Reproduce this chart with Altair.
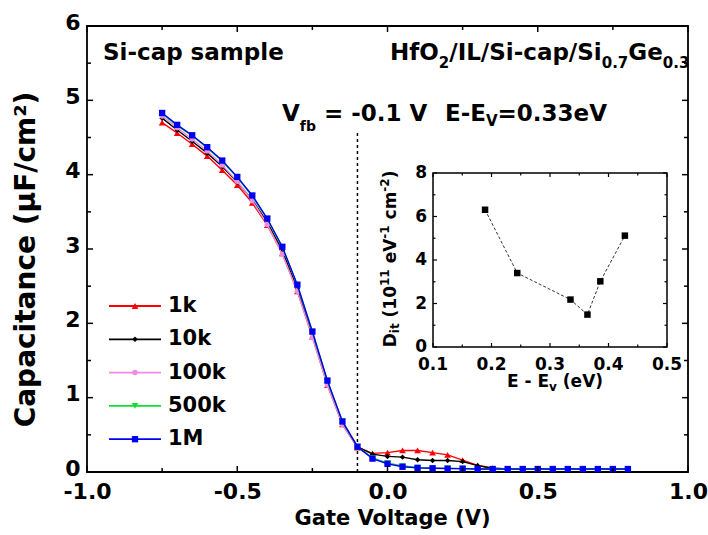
import altair as alt
import pandas as pd

FONT = "DejaVu Sans"

# ---------------- data ----------------
gate_v = [-0.75, -0.70, -0.65, -0.60, -0.55, -0.50, -0.45, -0.40, -0.35, -0.30,
          -0.25, -0.20, -0.15, -0.10, -0.05, 0.00, 0.05, 0.10, 0.15, 0.20,
          0.25, 0.30, 0.35, 0.40, 0.45, 0.50, 0.55, 0.60, 0.65, 0.70, 0.75, 0.80]

cap_1k = [4.70, 4.56, 4.41, 4.25, 4.06, 3.86, 3.62, 3.32, 2.94, 2.43,
          1.82, 1.17, 0.64, 0.33, 0.25, 0.26, 0.29, 0.29, 0.26, 0.23,
          0.16, 0.09, 0.05, 0.04, 0.04, 0.04, 0.04, 0.04, 0.04, 0.04, 0.04, 0.04]
cap_10k = [4.76, 4.60, 4.45, 4.29, 4.11, 3.90, 3.66, 3.36, 2.98, 2.47,
           1.86, 1.21, 0.67, 0.34, 0.24, 0.21, 0.20, 0.165, 0.155, 0.155,
           0.14, 0.085, 0.05, 0.04, 0.04, 0.04, 0.04, 0.04, 0.04, 0.04, 0.04, 0.04]
cap_100k = [4.79, 4.63, 4.48, 4.32, 4.13, 3.91, 3.65, 3.33, 2.93, 2.43,
            1.81, 1.17, 0.64, 0.33, 0.19, 0.12, 0.08, 0.06, 0.05, 0.05,
            0.045, 0.04, 0.04, 0.04, 0.04, 0.04, 0.04, 0.04, 0.04, 0.04, 0.04, 0.04]
cap_500k = [4.82, 4.66, 4.52, 4.36, 4.18, 3.96, 3.71, 3.40, 3.02, 2.51,
            1.88, 1.22, 0.68, 0.34, 0.19, 0.12, 0.08, 0.06, 0.05, 0.05,
            0.045, 0.04, 0.04, 0.04, 0.04, 0.04, 0.04, 0.04, 0.04, 0.04, 0.04, 0.04]
cap_1M = [4.83, 4.67, 4.53, 4.37, 4.19, 3.97, 3.72, 3.41, 3.03, 2.52,
          1.89, 1.23, 0.68, 0.34, 0.18, 0.11, 0.07, 0.055, 0.05, 0.045,
          0.045, 0.04, 0.04, 0.04, 0.04, 0.04, 0.04, 0.04, 0.04, 0.04, 0.04, 0.04]

series_names = ["1k", "10k", "100k", "500k", "1M"]
series_values = [cap_1k, cap_10k, cap_100k, cap_500k, cap_1M]
series_colors = ["#ff0000", "#000000", "#f38ae2", "#12dd30", "#0000f0"]
series_shapes = ["triangle-up", "diamond", "circle", "triangle-down", "square"]
series_sizes = [45, 30, 30, 45, 40]

inset_e = [0.189, 0.244, 0.335, 0.364, 0.386, 0.428]
inset_dit = [6.31, 3.40, 2.18, 1.49, 3.02, 5.12]

x_domain = [-1.0, 1.0]
y_domain = [0.0, 6.0]
x_major = [-1.0, -0.5, 0.0, 0.5, 1.0]
x_minor = [-0.75, -0.25, 0.25, 0.75]
y_major = [0, 1, 2, 3, 4, 5, 6]
y_minor = [0.5, 1.5, 2.5, 3.5, 4.5, 5.5]

inset_x_domain = [0.1, 0.5]
inset_y_domain = [0.0, 8.0]
inset_x_major = [0.1, 0.2, 0.3, 0.4, 0.5]
inset_x_minor = [0.15, 0.25, 0.35, 0.45]
inset_y_major = [0, 2, 4, 6, 8]
inset_y_minor = [1, 3, 5, 7]

vfb_value = [-0.1]
vfb_line = [0.0, 4.6]

# ---------------- layout ----------------
W, H = 601, 446
PAD = {"left": 87, "top": 26, "right": 20, "bottom": 63}
IX0, IX1, IY0, IY1 = 346, 580, 147, 321   # inset frame (plot pixels)

# DejaVu Sans Bold advance widths (em)
ADV = {" ": 0.348, "(": 0.457, ")": 0.457, "-": 0.415, ".": 0.381, "/": 0.365,
       "=": 0.838, "D": 0.830, "E": 0.683, "F": 0.683, "G": 0.821, "H": 0.837,
       "I": 0.372, "L": 0.637, "M": 0.995, "O": 0.850, "S": 0.720, "V": 0.774,
       "a": 0.675, "b": 0.716, "c": 0.593, "e": 0.678, "f": 0.435, "i": 0.343,
       "k": 0.665, "l": 0.343, "m": 1.042, "p": 0.716, "s": 0.595, "t": 0.478,
       "v": 0.652}


def adv(s, size):
    return sum(ADV.get(ch, 0.696) for ch in s) * size


def text_run(pieces, start, base, angle=0):
    layers = []
    pos = start
    for txt, size, shift in pieces:
        stripped = txt.lstrip(" ")
        lead = adv(txt[: len(txt) - len(stripped)], size)
        pos_piece = pos + lead if angle == 0 else pos - lead
        if angle == 0:
            xv, yv = pos_piece, base + shift
        else:
            xv, yv = base + shift, pos_piece
        layers.append(
            alt.Chart(pd.DataFrame({"s": [stripped]}))
            .mark_text(font=FONT, fontWeight="bold", fontSize=size, align="left",
                       baseline="alphabetic", angle=angle, color="black")
            .encode(text="s:N", x=alt.value(xv), y=alt.value(yv))
        )
        w = adv(txt, size)
        pos = pos + w if angle == 0 else pos - w
    return layers


# ---------------- main scales / axes ----------------
xs = alt.Scale(domain=x_domain, nice=False, zero=False)
ys = alt.Scale(domain=y_domain, nice=False, zero=False)
xaxis = alt.Axis(values=x_major, labelExpr="(datum.value < 0 ? '-' : '') + format(abs(datum.value), '.1f')",
                 title="Gate Voltage (V)", domain=False, ticks=False, tickSize=0, grid=False,
                 labelPadding=9, labelFlush=False, labelOverlap=False, labelFontSize=22,
                 titleFontSize=21, titleX=305, titleY=46, titleBaseline="middle", titleAlign="center")
yaxis = alt.Axis(values=y_major, format="d", title="Capacitance (µF/cm²)", domain=False,
                 ticks=False, tickSize=0, grid=False, labelPadding=7, labelFontSize=22,
                 labelOffset=-4, labelFlush=False, labelOverlap=False,
                 titleFontSize=28, titleX=-61, titleY=H / 2 + 10, titleAngle=270,
                 titleAlign="center", titleBaseline="middle")


def MX(f):
    return alt.X(f, type="quantitative", scale=xs, axis=xaxis)


def MY(f):
    return alt.Y(f, type="quantitative", scale=ys, axis=yaxis)


xis = alt.Scale(domain=inset_x_domain, range=[IX0, IX1], nice=False, zero=False)
yis = alt.Scale(domain=inset_y_domain, range=[IY1, IY0], nice=False, zero=False)


def IX(f):
    return alt.X(f, type="quantitative", scale=xis, axis=None)


def IY(f):
    return alt.Y(f, type="quantitative", scale=yis, axis=None)


def ticks(values, side, length, fx, fy, x0, x1, y0, y1, sw=1.5):
    base = alt.Chart(pd.DataFrame({"t": values})).mark_rule(color="black", strokeWidth=sw)
    if side == "bottom":
        return base.encode(x=fx("t"), y=alt.value(y1), y2=alt.value(y1 - length))
    if side == "top":
        return base.encode(x=fx("t"), y=alt.value(y0), y2=alt.value(y0 + length))
    if side == "left":
        return base.encode(y=fy("t"), x=alt.value(x0), x2=alt.value(x0 + length))
    return base.encode(y=fy("t"), x=alt.value(x1), x2=alt.value(x1 - length))


# ---------------- main layers ----------------
main = []

vfb_df = pd.DataFrame({"v": vfb_value, "y0": [vfb_line[0]], "y1": [vfb_line[1]]})
main.append(alt.Chart(vfb_df).mark_rule(color="black", strokeWidth=1.5, strokeDash=[3, 3])
            .encode(x=MX("v"), y=MY("y0"), y2="y1"))

for name, vals, col, shp, sz in zip(series_names, series_values, series_colors, series_shapes, series_sizes):
    df = pd.DataFrame({"v": gate_v, "c": vals})
    main.append(alt.Chart(df).mark_line(color=col, strokeWidth=1.4).encode(x=MX("v"), y=MY("c")))
    main.append(alt.Chart(df).mark_point(color=col, shape=shp, size=sz, filled=True, opacity=1)
                .encode(x=MX("v"), y=MY("c")))

for side in ["bottom", "top"]:
    main.append(ticks(x_major, side, 6, MX, MY, 0, W, 0, H))
    main.append(ticks(x_minor, side, 4, MX, MY, 0, W, 0, H))
for side in ["left", "right"]:
    main.append(ticks(y_major, side, 6, MX, MY, 0, W, 0, H))
    main.append(ticks(y_minor, side, 4, MX, MY, 0, W, 0, H))

# legend
for i, (name, col, shp, sz) in enumerate(zip(series_names, series_colors, series_shapes, series_sizes)):
    yy = 280 + 33.3 * i
    one = pd.DataFrame({"s": [name]})
    main.append(alt.Chart(one).mark_rule(color=col, strokeWidth=1.8)
                .encode(x=alt.value(22), x2=alt.value(74), y=alt.value(yy)))
    main.append(alt.Chart(one).mark_point(color=col, shape=shp, size=sz, filled=True, opacity=1)
                .encode(x=alt.value(48), y=alt.value(yy)))
    main.append(alt.Chart(one).mark_text(font=FONT, fontWeight="bold", fontSize=21, align="left",
                                         baseline="middle", color="black")
                .encode(text="s:N", x=alt.value(81), y=alt.value(yy)))

# annotations
main += text_run([("Si-cap sample", 23, 0)], 16, 34)
main += text_run([("HfO", 23, 0), ("2", 15, 8), ("/IL/Si-cap/Si", 23, 0), ("0.7", 15, 8),
                  ("Ge", 23, 0), ("0.3", 15, 8)], 303, 34)
main += text_run([("V", 23, 0), ("fb", 14, 10), (" = -0.1 V", 23, 0)], 195, 95)
main += text_run([("E-E", 23, 0), ("V", 15, 5), ("=0.33eV", 23, 0)], 358, 95)

# ---------------- inset layers ----------------
inset = []
frame_df = pd.DataFrame({"x0": [inset_x_domain[0]], "x1": [inset_x_domain[1]],
                         "y0": [inset_y_domain[0]], "y1": [inset_y_domain[1]]})
inset.append(alt.Chart(frame_df).mark_rect(fill="white", stroke="black", strokeWidth=1.5)
             .encode(x=IX("x0"), x2="x1", y=IY("y0"), y2="y1"))
idf = pd.DataFrame({"e": inset_e, "d": inset_dit})
inset.append(alt.Chart(idf).mark_line(color="#333333", strokeWidth=1, strokeDash=[3, 2])
             .encode(x=IX("e"), y=IY("d")))
inset.append(alt.Chart(idf).mark_point(color="black", shape="square", size=42, filled=True, opacity=1)
             .encode(x=IX("e"), y=IY("d")))
for side in ["bottom", "top"]:
    inset.append(ticks(inset_x_major, side, 4, IX, IY, IX0, IX1, IY0, IY1, 1.2))
    inset.append(ticks(inset_x_minor, side, 2.5, IX, IY, IX0, IX1, IY0, IY1, 1.2))
for side in ["left", "right"]:
    inset.append(ticks(inset_y_major, side, 4, IX, IY, IX0, IX1, IY0, IY1, 1.2))
    inset.append(ticks(inset_y_minor, side, 2.5, IX, IY, IX0, IX1, IY0, IY1, 1.2))
inset.append(alt.Chart(pd.DataFrame({"t": inset_x_major}))
             .mark_text(font=FONT, fontWeight="bold", fontSize=17, baseline="middle", color="black")
             .encode(x=IX("t"), y=alt.value(IY1 + 18), text=alt.Text("t:Q", format=".1f")))
inset.append(alt.Chart(pd.DataFrame({"t": inset_y_major}))
             .mark_text(font=FONT, fontWeight="bold", fontSize=17, baseline="middle", align="right",
                        color="black")
             .encode(y=IY("t"), x=alt.value(IX0 - 6), text=alt.Text("t:Q", format="d")))
inset += text_run([("E - E", 17, 0), ("v", 12, 4), (" (eV)", 17, 0)], 420, 361)
inset += text_run([("D", 17, 0), ("it", 12, 3), (" (10", 17, 0), ("11", 12, -7), (" eV", 17, 0),
                   ("-1", 12, -7), (" cm", 17, 0), ("-2", 12, -7), (")", 17, 0)],
                  (IY0 + IY1) / 2 + 87.3, 309, angle=270)

chart = (
    alt.layer(alt.layer(*main), alt.layer(*inset))
    .resolve_scale(x="independent", y="independent")
    .properties(width=W, height=H, padding=PAD,
                autosize=alt.AutoSizeParams(type="none"), background="white")
    .configure_view(stroke="black", strokeWidth=1.8)
    .configure_axis(labelFont=FONT, labelFontWeight="bold", titleFont=FONT,
                    titleFontWeight="bold", labelColor="black", titleColor="black")
)

chart.save("out.html", embed_options={"renderer": "svg", "actions": False})
